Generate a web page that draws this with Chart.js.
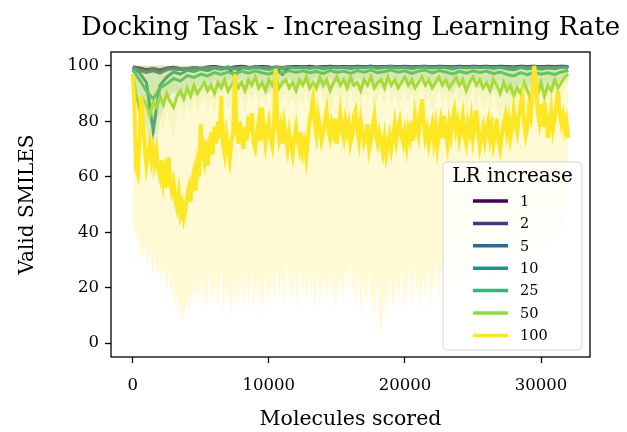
<!DOCTYPE html>
<html>
<head>
<meta charset="utf-8">
<title>Docking Task - Increasing Learning Rate</title>
<script src="https://cdn.jsdelivr.net/npm/chart.js@4.4.1/dist/chart.umd.min.js"></script>
<style>
  html, body { margin: 0; padding: 0; background: #fff; }
  #wrap { width: 627px; height: 432px; }
</style>
</head>
<body>
<div id="wrap"><canvas id="chart" width="627" height="432"></canvas></div>
<script>
// sample positions (molecules scored): every 500, 250 or 125 molecules depending on the run
const steps500 = Array.from({ length: 65 }, (_, i) => i * 500);
const steps250 = Array.from({ length: 129 }, (_, i) => i * 250);
const steps125 = Array.from({ length: 257 }, (_, i) => i * 125);

const seriesLabels = ["1", "2", "5", "10", "25", "50", "100"];
const seriesColors = ["#440154", "#443983", "#31688e", "#21918c", "#35b779", "#90d743", "#fde725"];

const xTicks = [0, 10000, 20000, 30000];
const xTickLabels = ["0", "10000", "20000", "30000"];
const yTicks = [0, 20, 40, 60, 80, 100];
const yTickLabels = ["0", "20", "40", "60", "80", "100"];

// mean valid SMILES (%) per run
const lr1 = [
  99.6, 99.2, 98.6, 99.0, 98.4, 99.2, 99.5, 99.0, 98.8, 99.4, 99.1, 99.6, 99.8,
  99.4, 99.2, 99.6, 99.9, 99.5, 99.4, 99.8, 99.6, 99.1, 97.0, 99.5, 99.8, 99.6,
  99.9, 99.5, 99.7, 99.9, 99.6, 99.8, 99.5, 99.9, 99.7, 99.9, 99.6, 99.8, 99.9,
  99.7, 99.9, 99.6, 99.8, 99.9, 99.7, 99.9, 99.8, 99.6, 99.9, 99.7, 99.9, 99.8,
  99.9, 99.7, 99.9, 99.8, 99.6, 99.9, 99.8, 99.9, 99.7, 99.9, 99.8, 99.9, 99.8
];
const lr2 = [
  99.3, 98.6, 98.0, 98.8, 97.8, 98.9, 99.2, 98.7, 99.0, 99.3, 98.9, 99.4, 99.6,
  99.1, 99.5, 96.2, 99.6, 99.3, 99.7, 99.5, 99.2, 99.6, 99.4, 99.7, 99.5, 99.8,
  99.6, 99.4, 99.8, 99.6, 99.7, 99.5, 99.8, 99.6, 99.7, 99.9, 99.5, 99.7, 99.8,
  99.6, 99.8, 99.5, 99.7, 99.8, 99.6, 99.8, 99.7, 99.5, 99.8, 99.6, 99.8, 99.7,
  99.8, 99.6, 99.8, 99.7, 99.5, 99.8, 99.7, 99.8, 99.6, 99.8, 99.7, 99.8, 99.7
];
const lr5 = [
  99.2, 98.4, 97.6, 98.2, 97.4, 98.6, 99.0, 98.7, 99.0, 99.3, 99.0, 99.4, 99.5,
  99.2, 99.5, 99.1, 99.6, 99.3, 99.6, 99.4, 99.2, 99.5, 99.3, 99.6, 99.4, 99.7,
  99.5, 99.3, 99.7, 99.5, 99.6, 99.4, 99.7, 99.5, 99.6, 99.8, 99.4, 99.6, 99.7,
  99.5, 99.7, 99.4, 99.6, 99.8, 99.5, 99.7, 99.6, 99.4, 99.7, 99.5, 99.7, 99.6,
  99.7, 99.5, 99.7, 99.5, 99.3, 99.7, 99.5, 99.7, 99.4, 99.6, 99.5, 99.7, 99.6
];
const lr10 = [
  99.2, 97.5, 94.0, 76.5, 93.0, 96.0, 97.8, 97.0, 98.4, 98.0, 98.8, 98.3, 99.2,
  98.7, 99.3, 98.9, 99.4, 99.0, 99.5, 99.1, 98.7, 99.4, 99.0, 99.6, 99.2, 99.5,
  99.1, 99.5, 98.9, 99.6, 99.2, 99.5, 99.0, 99.6, 99.3, 99.7, 99.1, 99.5, 99.7,
  99.2, 99.6, 99.0, 99.5, 99.7, 99.2, 99.6, 99.4, 98.9, 99.5, 99.2, 99.6, 99.3,
  99.6, 99.1, 99.5, 98.9, 98.6, 99.4, 98.9, 99.3, 98.8, 99.2, 99.0, 99.5, 99.6
];
const lr25 = [
  98.5, 95.0, 91.0, 88.0, 92.0, 93.5, 95.5, 94.5, 96.5, 95.8, 97.0, 96.4, 97.6,
  96.9, 97.8, 97.1, 98.1, 97.4, 98.2, 97.5, 97.0, 98.0, 97.4, 98.3, 97.6, 98.2,
  97.5, 98.0, 97.2, 98.4, 97.6, 98.1, 97.3, 98.3, 97.7, 98.5, 97.5, 98.0, 98.5,
  97.7, 98.2, 97.3, 98.1, 98.5, 97.5, 98.3, 97.8, 97.1, 98.0, 97.4, 98.2, 97.6,
  98.1, 97.2, 97.8, 96.9, 96.4, 97.6, 96.8, 97.7, 97.0, 97.5, 96.9, 97.8, 98.4
];
const lr50 = [
  97, 90, 84, 88, 86,
  82, 87, 85, 89, 86, 90, 87, 85,
  89, 91, 88, 92, 89, 93, 90, 92,
  94, 91, 93, 90, 94, 92, 95, 91,
  93, 95, 92, 94, 91, 95, 93, 96,
  92, 94, 91, 95, 93, 96, 92, 94,
  95, 92, 94, 91, 95, 93, 96, 92,
  94, 92, 96, 93, 95, 91, 94, 96,
  93, 95, 92, 96, 93, 94, 91, 95,
  93, 96, 92, 94, 95, 92, 96, 93,
  95, 92, 94, 96, 93, 95, 92, 94,
  96, 93, 95, 92, 94, 96, 93, 95,
  92, 94, 96, 93, 95, 91, 94, 96,
  93, 95, 92, 94, 91, 95, 93, 90,
  94, 91, 93, 89, 92, 90, 94, 91,
  88, 92, 90, 94, 89, 93, 91, 95,
  92, 94, 96, 97
];
const lr100 = [
  97, 84, 63, 61, 74, 89, 80, 71, 64,
  68, 72, 66, 70, 65, 69, 63, 60,
  66, 58, 62, 56, 67, 60, 55, 58,
  52, 49, 54, 47, 50, 45, 48, 53,
  56, 51, 59, 62, 55, 64, 60, 79,
  70, 66, 73, 64, 70, 76, 68, 78,
  72, 80, 74, 89, 72, 68, 75, 70,
  66, 73, 76, 97, 78, 72, 80, 75,
  70, 78, 73, 82, 76, 83, 72, 70,
  75, 80, 73, 85, 78, 72, 77, 80,
  74, 71, 78, 99, 80, 74, 78, 72,
  79, 74, 70, 76, 72, 68, 74, 78,
  73, 70, 76, 69, 72, 67, 74, 80,
  84, 88, 79, 75, 82, 78, 73, 76,
  80, 84, 77, 74, 79, 76, 81, 72,
  78, 83, 77, 74, 80, 76, 79, 72,
  75, 82, 84, 77, 73, 80, 76, 72,
  74, 79, 70, 73, 78, 82, 75, 72,
  76, 73, 69, 74, 68, 72, 75, 70,
  74, 79, 73, 77, 80, 75, 72, 76,
  71, 77, 74, 80, 73, 82, 78, 75,
  83, 88, 80, 74, 77, 72, 76, 79,
  73, 78, 71, 76, 80, 74, 82, 77,
  72, 79, 75, 81, 84, 77, 80, 74,
  78, 82, 75, 72, 79, 76, 81, 74,
  79, 84, 76, 71, 75, 78, 73, 77,
  80, 74, 78, 72, 76, 81, 73, 70,
  75, 79, 82, 76, 80, 74, 78, 84,
  79, 76, 82, 86, 89, 80, 75, 78,
  85, 82, 91, 100, 95, 84, 80, 86,
  78, 87, 82, 74, 79, 84, 77, 81,
  86, 91, 83, 79, 82, 77, 80, 74
];

// lowest run per step (each shaded band runs from here up to 100)
const lr10Low = [
  97, 88, 78, 58, 80, 88, 91, 89, 93, 91, 94, 92, 95,
  93, 95, 94, 96, 93, 96, 94, 92, 95, 94, 96, 93, 95,
  94, 96, 93, 96, 94, 95, 93, 96, 94, 96, 93, 95, 96,
  94, 95, 93, 96, 95, 93, 95, 94, 92, 95, 93, 96, 94,
  95, 93, 95, 92, 91, 94, 92, 95, 92, 94, 93, 95, 96
];
const lr25Low = [
  96, 89, 84, 80, 85, 88, 90, 88, 91, 89, 92, 90, 93,
  91, 94, 92, 94, 91, 95, 92, 90, 94, 92, 95, 91, 94,
  92, 94, 91, 95, 92, 94, 91, 95, 93, 95, 91, 94, 95,
  92, 94, 91, 94, 95, 91, 94, 92, 90, 94, 91, 94, 92,
  94, 91, 93, 90, 89, 93, 90, 94, 90, 93, 91, 94, 95
];
const lr50Low = [
  94, 78, 74, 80, 72,
  70, 78, 75, 82, 76, 84, 79, 74,
  83, 86, 80, 87, 82, 88, 84, 86,
  89, 84, 88, 82, 90, 85, 91, 84,
  88, 91, 85, 89, 83, 90, 87, 92,
  85, 89, 84, 91, 86, 92, 84, 88,
  91, 85, 89, 83, 90, 86, 92, 84,
  88, 84, 92, 86, 90, 83, 88, 91,
  85, 90, 84, 92, 86, 89, 83, 90,
  86, 92, 84, 88, 91, 85, 92, 86,
  90, 84, 88, 92, 86, 90, 83, 88,
  92, 86, 90, 84, 88, 92, 85, 90,
  84, 88, 92, 86, 90, 83, 88, 92,
  85, 90, 84, 88, 82, 90, 86, 81,
  88, 82, 86, 79, 85, 81, 88, 83,
  78, 85, 81, 88, 80, 86, 83, 89,
  84, 88, 92, 94
];
const lr100Low = [
  38, 44, 36, 41, 30, 38, 28, 35, 31,
  26, 34, 29, 24, 32, 27, 22, 30,
  20, 27, 24, 18, 26, 21, 16, 23,
  12, 19, 9, 15, 7, 13, 10, 16,
  11, 18, 14, 24, 13, 20, 16, 25,
  14, 22, 11, 19, 26, 13, 21, 17,
  24, 12, 20, 27, 10, 18, 23, 14,
  21, 9, 17, 25, 12, 22, 15, 26,
  11, 19, 24, 13, 21, 27, 10, 18,
  25, 14, 22, 9, 19, 26, 12, 20,
  15, 27, 13, 21, 28, 16, 24, 19,
  13, 25, 29, 17, 23, 14, 26, 20,
  12, 22, 27, 16, 24, 13, 21, 28,
  15, 23, 11, 20, 26, 14, 22, 18,
  25, 13, 21, 27, 15, 23, 12, 20,
  26, 17, 24, 14, 28, 19, 25, 30,
  16, 24, 12, 21, 27, 9, 18, 23,
  14, 20, 26, 11, 19, 8, 16, 22,
  6, 2, 12, 19, 8, 22, 14, 25,
  10, 18, 24, 13, 21, 27, 11, 19,
  15, 23, 29, 13, 21, 27, 16, 24,
  11, 20, 26, 16, 23, 29, 12, 22,
  18, 25, 31, 14, 24, 30, 19, 27,
  16, 26, 33, 21, 29, 15, 27, 34,
  19, 28, 35, 22, 30, 17, 26, 36,
  21, 31, 37, 18, 28, 34, 24, 38,
  20, 30, 36, 25, 33, 39, 22, 32,
  26, 35, 40, 23, 34, 38, 28, 42,
  25, 36, 44, 30, 39, 27, 37, 45,
  29, 40, 46, 33, 42, 28, 38, 47,
  31, 43, 48, 35, 44, 30, 41, 49,
  33, 45, 50, 37, 46, 42, 48, 40
];

const means = [lr1, lr2, lr5, lr10, lr25, lr50, lr100];
const lows = [null, null, null, lr10Low, lr25Low, lr50Low, lr100Low];
const steps = [steps500, steps500, steps500, steps500, steps500, steps250, steps125];
const bandAlpha = [0, 0, 0, 0.12, 0.12, 0.12, 0.2];
const lineWidths = [3, 3, 3, 3, 3, 3, 4];

function toPoints(xs, ys) {
  return ys.map((v, i) => ({ x: xs[i], y: v }));
}

function rgba(hex, a) {
  const n = parseInt(hex.slice(1), 16);
  return `rgba(${(n >> 16) & 255}, ${(n >> 8) & 255}, ${n & 255}, ${a})`;
}

const datasets = [];
seriesLabels.forEach((label, k) => {
  if (lows[k]) {
    datasets.push({
      label: label + " range",
      data: toPoints(steps[k], lows[k]),
      borderWidth: 0,
      pointRadius: 0,
      backgroundColor: rgba(seriesColors[k], bandAlpha[k]),
      fill: { value: 100 },
      order: 100 - 2 * k
    });
  }
  datasets.push({
    label: label,
    data: toPoints(steps[k], means[k]),
    borderColor: seriesColors[k],
    backgroundColor: seriesColors[k],
    borderWidth: lineWidths[k],
    pointRadius: 0,
    fill: false,
    order: 99 - 2 * k
  });
});

// title over the plot, frame round it, and the boxed legend in the lower right
const frameAndLegend = {
  id: "frameAndLegend",
  afterDraw(chart) {
    const { ctx, chartArea: a } = chart;
    ctx.save();
    ctx.fillStyle = "#000";
    ctx.textAlign = "center";
    ctx.textBaseline = "middle";
    ctx.font = "26px 'DejaVu Serif'";
    ctx.fillText("Docking Task - Increasing Learning Rate", (a.left + a.right) / 2, 28);

    ctx.strokeStyle = "#000";
    ctx.lineWidth = 1.3;
    ctx.strokeRect(a.left, a.top, a.right - a.left, a.bottom - a.top);

    const w = 139, h = 188;
    const x0 = a.right - 8 - w, y0 = a.bottom - 7 - h;
    ctx.beginPath();
    ctx.roundRect(x0, y0, w, h, 4);
    ctx.fillStyle = "rgba(255,255,255,0.8)";
    ctx.fill();
    ctx.strokeStyle = "rgba(204,204,204,0.8)";
    ctx.lineWidth = 1;
    ctx.stroke();

    ctx.fillStyle = "#000";
    ctx.font = "20px 'DejaVu Serif'";
    ctx.fillText("LR increase", x0 + w / 2, y0 + 15);

    ctx.textAlign = "left";
    ctx.font = "14.5px 'DejaVu Serif'";
    seriesLabels.forEach((label, i) => {
      const y = y0 + 39 + i * 22.4;
      ctx.beginPath();
      ctx.moveTo(x0 + 30, y);
      ctx.lineTo(x0 + 65, y);
      ctx.strokeStyle = seriesColors[i];
      ctx.lineWidth = 3.5;
      ctx.stroke();
      ctx.fillText(label, x0 + 77, y + 1);
    });
    ctx.restore();
  }
};

Chart.defaults.font.family = "'DejaVu Serif', serif";
Chart.defaults.color = "#000";

new Chart(document.getElementById("chart"), {
  type: "line",
  data: { datasets: datasets },
  options: {
    responsive: false,
    animation: false,
    layout: { padding: { top: 52, right: 37, bottom: 0, left: 0 } },
    plugins: {
      legend: { display: false },
      tooltip: { enabled: false },
      title: { display: false }
    },
    scales: {
      x: {
        type: "linear",
        min: -1600,
        max: 33600,
        afterBuildTicks: s => { s.ticks = xTicks.map(v => ({ value: v })); },
        afterFit: s => { s.height = 75; },
        ticks: {
          font: { size: 16.5 },
          color: "#000",
          padding: 13,
          maxRotation: 0,
          autoSkip: false,
          callback: v => xTickLabels[xTicks.indexOf(v)]
        },
        grid: { display: true, drawOnChartArea: false, drawTicks: true, tickLength: 6, tickWidth: 1.3, tickColor: "#000" },
        border: { display: false },
        title: { display: true, text: "Molecules scored", font: { size: 20.5 }, color: "#000", padding: { bottom: 0 } }
      },
      y: {
        type: "linear",
        min: -5,
        max: 105,
        afterBuildTicks: s => { s.ticks = yTicks.map(v => ({ value: v })); },
        afterFit: s => { s.width = 111; },
        ticks: {
          font: { size: 16.5 },
          color: "#000",
          padding: 6,
          callback: v => yTickLabels[yTicks.indexOf(v)]
        },
        grid: { display: true, drawOnChartArea: false, drawTicks: true, tickLength: 6, tickWidth: 1.3, tickColor: "#000" },
        border: { display: false },
        title: { display: true, text: "Valid SMILES", font: { size: 20 }, color: "#000", padding: { top: 16 } }
      }
    }
  },
  plugins: [frameAndLegend]
});
</script>
</body>
</html>
